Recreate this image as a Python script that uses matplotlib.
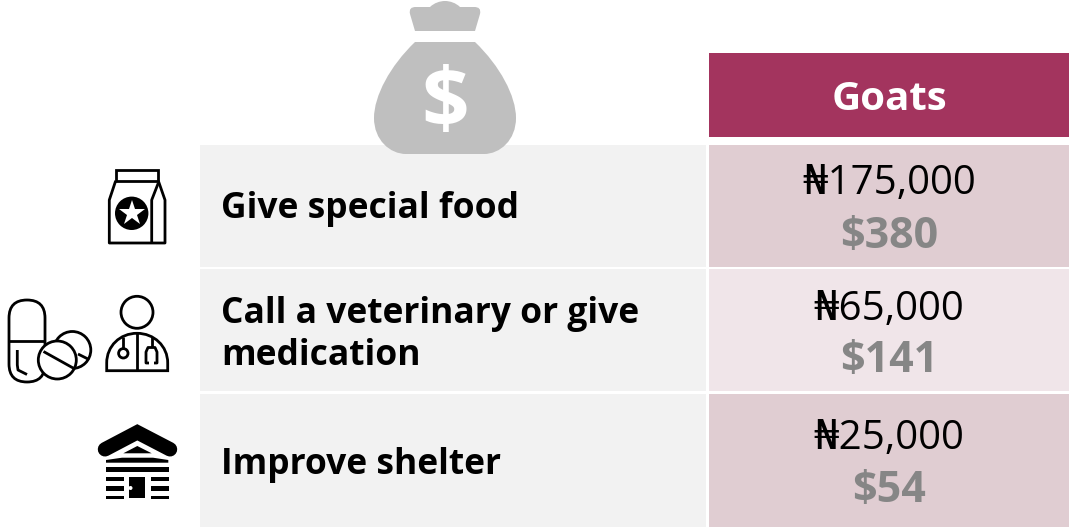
import matplotlib
matplotlib.use("Agg")
import matplotlib.pyplot as plt
from matplotlib.patches import Rectangle, Circle, Polygon, PathPatch, FancyBboxPatch
from matplotlib.path import Path

plt.rcParams['font.family'] = ['Open Sans', 'DejaVu Sans']

# table contents
header = "Goats"
actions = ["Give special food", "Call a veterinary or give\nmedication", "Improve shelter"]
naira = ["₦175,000", "₦65,000", "₦25,000"]
dollars = ["$380", "$141", "$54"]

# colours
MAROON = "#A3345E"
GREY_CELL = "#F2F2F2"
BAG_GREY = "#BFBFBF"
USD_GREY = "#868686"
VALUE_CELLS = ["#E0CDD2", "#F0E5E9", "#E0CDD2"]

# row layout in pixels: top, bottom, y of naira line, y of dollar line, y of label
row_top = [145, 269, 394]
row_bottom = [267, 391, 527]
naira_y = [184, 310, 439]
usd_y = [236, 361, 491]
label_y = [209, 335, 465]

fig = plt.figure(figsize=(10.69, 5.28), dpi=100)
ax = fig.add_axes([0, 0, 1, 1])
ax.set_xlim(0, 1069)
ax.set_ylim(528, 0)
ax.axis("off")

LW = 2.0


def line(xs, ys, **kw):
    kw.setdefault("color", "black")
    kw.setdefault("lw", LW)
    kw.setdefault("zorder", 5)
    ax.plot(xs, ys, solid_capstyle=kw.pop("cap", "butt"), **kw)


def ring(x, y, r, z=5):
    ax.add_patch(Circle((x, y), r, fc="white", ec="black", lw=LW, zorder=z))


def rect(x0, y0, x1, y1, color="black", z=5):
    ax.add_patch(Rectangle((x0, y0), x1 - x0, y1 - y0, fc=color, ec="none", zorder=z))


# table cells
rect(709, 53, 1069, 137, MAROON, 1)
ax.text(889, 100, header, color="white", fontsize=29, fontweight="bold", ha="center", va="center", zorder=6)
for i in range(3):
    rect(200, row_top[i], 706, row_bottom[i], GREY_CELL, 1)
    rect(709, row_top[i], 1069, row_bottom[i], VALUE_CELLS[i], 1)
    ax.text(221, label_y[i], actions[i], fontsize=25.5, fontweight="bold", ha="left", va="center",
            linespacing=1.25, color="black", zorder=6)
    ax.text(889, naira_y[i], naira[i], fontsize=29, ha="center", va="center", color="black", zorder=6)
    ax.text(889, usd_y[i], dollars[i], fontsize=31, fontweight="bold", ha="center", va="center",
            color=USD_GREY, zorder=6)

# money bag
knot = Path(
    [(415, 31), (410, 14), (409, 9), (411, 7), (416, 7), (430, 7), (434, 3), (440, 1), (445, 1),
     (450, 1), (456, 3), (460, 7), (474, 7), (479, 7), (481, 9), (480, 14), (475, 31), (415, 31)],
    [Path.MOVETO, Path.LINETO, Path.CURVE4, Path.CURVE4, Path.CURVE4, Path.LINETO, Path.CURVE4, Path.CURVE4,
     Path.CURVE4, Path.CURVE4, Path.CURVE4, Path.CURVE4, Path.LINETO, Path.CURVE4, Path.CURVE4, Path.CURVE4,
     Path.LINETO, Path.CLOSEPOLY])
ax.add_patch(PathPatch(knot, fc=BAG_GREY, ec="none", zorder=3))
body = Path(
    [(415, 42), (475, 42), (500, 66), (516, 96), (516, 118), (516, 140), (500, 154), (484, 154),
     (406, 154), (390, 154), (374, 140), (374, 118), (374, 96), (390, 66), (415, 42), (415, 42)],
    [Path.MOVETO, Path.LINETO, Path.CURVE4, Path.CURVE4, Path.CURVE4, Path.CURVE4, Path.CURVE4, Path.CURVE4,
     Path.LINETO, Path.CURVE4, Path.CURVE4, Path.CURVE4, Path.CURVE4, Path.CURVE4, Path.CURVE4, Path.CLOSEPOLY])
ax.add_patch(PathPatch(body, fc=BAG_GREY, ec="none", zorder=3))
ax.text(445, 106, "$", color="white", fontsize=60, fontweight="bold", ha="center", va="center", zorder=4)

# food bag icon
ax.add_patch(Rectangle((115.7, 170), 42.6, 10.7, fc="white", ec="black", lw=LW, zorder=5))
line([115.7, 109.3, 109.3, 165, 165, 158.3], [180.7, 200, 243, 243, 200, 180.7])
line([151.7, 151.7, 158.3], [243, 200, 183])
ax.add_patch(Circle((131.7, 213.3), 16.7, fc="black", ec="none", zorder=5))
ax.plot([131.7], [213.3], marker="*", color="white", ms=19, mew=0, zorder=6)

# capsule and tablets
ax.add_patch(FancyBboxPatch((27, 318), 0.01, 46, boxstyle="round,pad=18,rounding_size=18",
                            fc="white", ec="black", lw=LW, zorder=4, mutation_aspect=1))
line([9, 45], [340.7, 340.7])
line([17.3, 17.3, 18, 27], [350, 365, 370, 374.5])
ring(72.3, 350, 18.5, 5)
line([78, 89], [354, 359.5], zorder=6)
ring(57.3, 360, 19, 6)
line([43.5, 74], [351.5, 368.5], zorder=7)

# doctor icon
ring(137, 312.3, 16)
dome = Path(
    [(106.7, 370.7), (106.7, 363), (106.7, 346), (120, 333.3), (137, 333.3), (154, 333.3), (167.7, 346),
     (167.7, 363), (167.7, 370.7), (106.7, 370.7)],
    [Path.MOVETO, Path.LINETO, Path.CURVE4, Path.CURVE4, Path.CURVE4, Path.CURVE4, Path.CURVE4, Path.CURVE4,
     Path.LINETO, Path.CLOSEPOLY])
ax.add_patch(PathPatch(dome, fc="white", ec="black", lw=LW, zorder=5))
line([137, 137], [333.3, 370.7], zorder=6)
line([123.3, 123.3], [337, 349], zorder=6)
ring(123.3, 353.3, 4.7, 6)
line([151.7, 151.7], [337, 347], zorder=6)
line([149, 146, 146, 148, 155, 157, 157, 154], [363, 363, 352, 347.5, 347.5, 352, 363, 363], zorder=6)

# shelter icon
ax.plot([105, 137.3, 170], [449.3, 432.3, 449.3], color="black", lw=10.4, solid_capstyle="round",
        solid_joinstyle="miter", zorder=5)
ax.add_patch(Polygon([(123.3, 453.3), (137.3, 446), (151.7, 453.3)], fc="black", ec="none", zorder=6))
ax.add_patch(Polygon([(106, 460), (122, 457.7), (153, 457.7), (168.3, 460), (168.3, 462.7), (106, 462.7)],
                     fc="black", ec="none", zorder=5))
rect(106, 467.3, 169, 472)
for y0, y1 in [(476.7, 481.3), (486, 491.3), (495.5, 498.7)]:
    rect(106, y0, 124.3, y1)
    rect(150.7, y0, 168.7, y1)
rect(129.3, 476.7, 145, 498)
ax.add_patch(Circle((130.5, 488), 2, fc="white", ec="none", zorder=6))

fig.savefig("out.png", dpi=100, facecolor="white")
